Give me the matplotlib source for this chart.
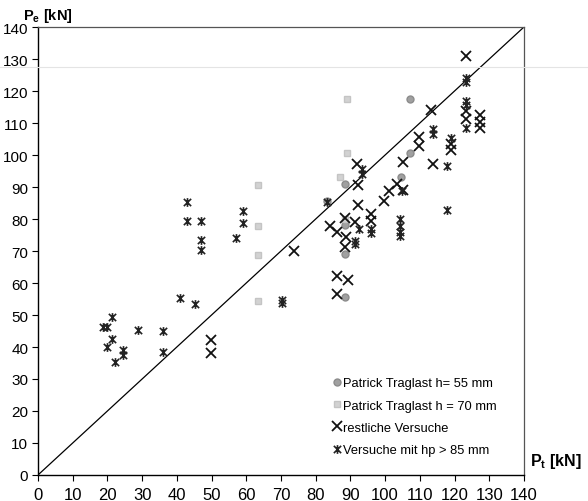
import matplotlib
matplotlib.use("Agg")
import matplotlib.pyplot as plt
from matplotlib.path import Path
from matplotlib.lines import Line2D

plt.rcParams['font.family'] = ['Liberation Sans', 'DejaVu Sans']
plt.rcParams['mathtext.fontset'] = 'custom'
plt.rcParams['mathtext.rm'] = 'Liberation Sans'
plt.rcParams['mathtext.bf'] = 'Liberation Sans:bold'

# Patrick Traglast h = 55 mm
x_55 = [83.4, 88.4, 88.4, 88.4, 88.4, 104.5, 107.2, 107.2]
y_55 = [85.6, 90.9, 78.0, 69.0, 55.5, 93.0, 100.6, 117.5]

# Patrick Traglast h = 70 mm
x_70 = [63.3, 63.3, 63.3, 63.3, 87.0, 89.1, 89.1, 88.4]
y_70 = [90.6, 77.9, 68.7, 54.5, 93.0, 100.5, 117.5, 80.0]

# restliche Versuche
x_rest = [49.8, 49.8, 73.7, 84.1, 86.0, 88.4, 91.3, 88.7, 88.4, 86.0, 89.4, 86.0,
          92.1, 92.1, 91.8, 95.9, 95.9, 99.6, 101.0, 103.3, 105.1, 105.1, 109.9,
          109.9, 113.1, 113.9, 118.9, 118.9, 123.2, 123.2, 123.2, 127.3, 127.3, 127.3]
y_rest = [42.2, 38.0, 70.1, 77.9, 75.8, 80.2, 79.2, 74.3, 71.2, 62.3, 60.9, 56.6,
          90.7, 84.4, 97.2, 81.6, 79.5, 85.7, 88.8, 90.9, 97.9, 89.1, 105.5,
          102.7, 114.2, 97.2, 103.4, 101.7, 130.8, 113.8, 111.3, 112.5, 110.2, 108.3]

# Versuche mit hp > 85 mm
x_hp = [18.8, 20.0, 21.2, 21.2, 20.0, 22.2, 24.4, 24.4, 28.9, 35.9, 35.9, 40.9,
        45.2, 42.8, 42.8, 46.9, 46.9, 46.9, 57.0, 59.2, 59.2, 70.2, 70.2, 83.4,
        92.5, 91.3, 91.3, 93.2, 93.2, 95.9, 95.9, 104.3, 104.3, 104.3, 104.3,
        104.8, 113.9, 113.9, 117.9, 117.9, 118.9, 123.2, 123.2, 123.2, 123.2, 123.2]
y_hp = [46.3, 46.3, 49.3, 42.5, 39.9, 35.2, 39.2, 37.5, 45.4, 44.9, 38.3, 55.3,
        53.4, 85.2, 79.3, 79.3, 73.4, 70.4, 74.1, 82.4, 78.8, 54.8, 53.6, 85.4,
        76.9, 73.0, 72.2, 95.5, 94.0, 76.9, 75.6, 80.0, 77.9, 75.9, 74.6,
        88.8, 108.0, 106.5, 96.7, 82.9, 105.2, 124.0, 122.8, 117.0, 115.6, 108.5]

ticks = list(range(0, 141, 10))

# X with a vertical bar, like the Excel "star" marker
star = Path([(-1, -1), (1, 1), (-1, 1), (1, -1), (0, -1.2), (0, 1.2)],
            [Path.MOVETO, Path.LINETO, Path.MOVETO, Path.LINETO, Path.MOVETO, Path.LINETO])

fig = plt.figure(figsize=(5.88, 5.02), dpi=100)
ax = fig.add_axes([0.0646, 0.0518, 0.8265, 0.8924])

ax.plot([0, 140], [0, 140], color='black', lw=0.9, zorder=1)

ax.plot(x_55, y_55, ls='none', marker='o', ms=5, color='#a0a0a0',
        mec='#8c8c8c', label='Patrick Traglast h= 55 mm', zorder=2)
ax.plot(x_70, y_70, ls='none', marker='s', ms=4, color='#d2d2d2',
        mec='#c4c4c4', label='Patrick Traglast h = 70 mm', zorder=2)
ax.plot(x_rest, y_rest, ls='none', marker='x', ms=6.8, mew=1.3, color='#111111',
        label='restliche Versuche', zorder=3)
ax.plot(x_hp, y_hp, ls='none', marker=star, ms=6.3, mew=1.2, color='#222222',
        mfc='none', label='Versuche mit hp > 85 mm', zorder=3)

ax.set_xlim(0, 140)
ax.set_ylim(0, 140)
ax.set_xticks(ticks)
ax.set_yticks(ticks)
ax.tick_params(direction='out', length=4, width=0.8, labelsize=11, pad=3)
ax.tick_params(axis='x', labelsize=12, pad=5)

for s in ['left', 'bottom']:
    ax.spines[s].set_linewidth(1.0)
for s in ['top', 'right']:
    ax.spines[s].set_linestyle((0, (1, 1)))
    ax.spines[s].set_color('#555555')
    ax.spines[s].set_linewidth(0.9)

ax.text(-0.03, 1.006, r'$\mathbf{P_e}$ [kN]', transform=ax.transAxes,
        fontsize=10.5, fontweight='bold', ha='left', va='bottom')
ax.text(1.012, 0.012, r'$\mathbf{P_t}$ [kN]', transform=ax.transAxes,
        fontsize=11.5, fontweight='bold', ha='left', va='bottom')

ax.legend(loc='lower right', bbox_to_anchor=(0.955, 0.03), frameon=False,
          fontsize=9.3, handlelength=0.6, handletextpad=0.2, labelspacing=0.8,
          borderaxespad=0)

# faint scanner line across the page
fig.add_artist(Line2D([0, 1], [1 - 68 / 502, 1 - 68 / 502], transform=fig.transFigure,
                      color='#e4e4e4', lw=0.8))

fig.savefig('out.png', dpi=100)
